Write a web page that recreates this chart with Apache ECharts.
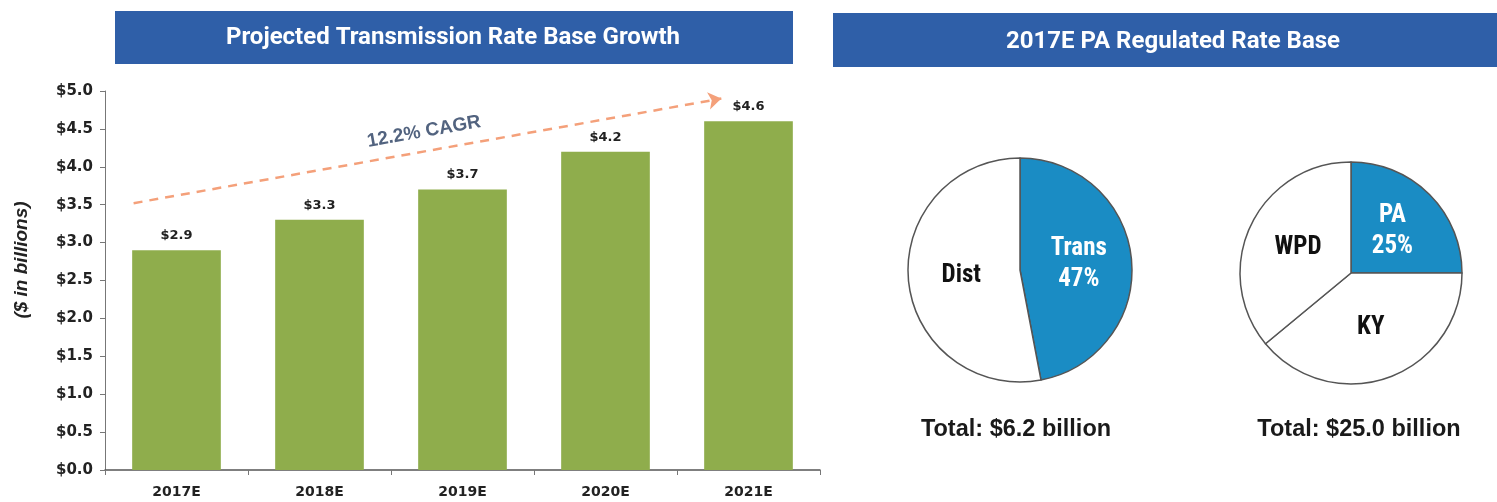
<!DOCTYPE html>
<html><head><meta charset="utf-8">
<script src="https://cdn.jsdelivr.net/npm/echarts@6/dist/echarts.min.js"></script>
<style>html,body{margin:0;padding:0;background:#fff}#c{width:1497px;height:502px}</style>
</head><body><div id="c"></div>
<script>
// ---- data ----
const years = ['2017E','2018E','2019E','2020E','2021E'];
const rateBase = [2.9, 3.3, 3.7, 4.2, 4.6];
const yTicks = [0, 0.5, 1.0, 1.5, 2.0, 2.5, 3.0, 3.5, 4.0, 4.5, 5.0];
const cagrLabel = '12.2% CAGR';
const trendStart = [-0.3, 3.52];   // category-index units, $bn
const trendEnd = [3.81, 4.9];
const paNames = ['Trans', 'Dist'];
const paShares = [47, 53];
const pplNames = ['PA', 'KY', 'WPD'];
const pplShares = [25, 39, 36];
const total1 = 'Total: $6.2 billion';
const total2 = 'Total: $25.0 billion';
const title1 = 'Projected Transmission Rate Base Growth';
const title2 = '2017E PA Regulated Rate Base';
const yName = '($ in billions)';

const BLUE = '#2f5fa8', GREEN = '#8fad4c', PIEBLUE = '#1a8cc4';
const condensed = '"Liberation Sans Narrow","Roboto Condensed",Roboto,sans-serif';
const titleFont = 'bold 24px Roboto,"Liberation Sans",sans-serif';

const chart = echarts.init(document.getElementById('c'));
chart.setOption({
  backgroundColor: '#fff',
  animation: false,
  graphic: [
    {type:'rect', shape:{x:115, y:11, width:678, height:53}, style:{fill:BLUE}, z:0},
    {type:'rect', shape:{x:833, y:13, width:664, height:54}, style:{fill:BLUE}, z:0},
    {type:'text', x:453, y:38, style:{text:title1, fill:'#fff', font:titleFont, textAlign:'center', textVerticalAlign:'middle'}, z:1},
    {type:'text', x:1173, y:42, style:{text:title2, fill:'#fff', font:titleFont, textAlign:'center', textVerticalAlign:'middle'}, z:1},
    {type:'text', x:1016, y:430, style:{text:total1, fill:'#1a1a1a', font:'bold 23.5px "Liberation Sans",Arial,sans-serif', textAlign:'center', textVerticalAlign:'middle'}},
    {type:'text', x:1359, y:430, style:{text:total2, fill:'#1a1a1a', font:'bold 23.5px "Liberation Sans",Arial,sans-serif', textAlign:'center', textVerticalAlign:'middle'}},
    {type:'text', x:22, y:260, rotation:Math.PI/2, style:{text:yName, fill:'#222', font:'italic bold 19px "Liberation Sans",Arial,sans-serif', textAlign:'center', textVerticalAlign:'middle'}}
  ],
  grid: {left:105, right:677, top:91, bottom:32, containLabel:false},
  xAxis: [
    {type:'category', data:years, boundaryGap:true,
     axisLine:{lineStyle:{color:'#555', width:1.5}},
     axisTick:{show:true, length:5, lineStyle:{color:'#777'}},
     axisLabel:{color:'#222', fontSize:14, fontWeight:'bold', fontFamily:'"DejaVu Sans",sans-serif', margin:15}},
    {type:'value', min:-0.5, max:4.5, show:false}
  ],
  yAxis: [{type:'value', min:0, max:5, interval:0.5,
    axisLine:{show:true, onZero:false, lineStyle:{color:'#777', width:1}},
    axisTick:{show:true, length:5, lineStyle:{color:'#777'}},
    splitLine:{show:false},
    axisLabel:{color:'#222', fontSize:15, fontWeight:'bold', fontFamily:'"DejaVu Sans",sans-serif', margin:12,
      formatter: v => yTicks.indexOf(v) >= 0 ? '$' + v.toFixed(1) : ''}}],
  series: [
    {type:'bar', data:rateBase, barWidth:'62%', xAxisIndex:0, yAxisIndex:0,
     itemStyle:{color:GREEN},
     label:{show:true, position:'top', distance:8, color:'#222', fontSize:13, fontWeight:'bold', fontFamily:'"DejaVu Sans",sans-serif',
       formatter: p => '$' + p.value.toFixed(1)}},
    {type:'scatter', xAxisIndex:1, yAxisIndex:0, data:[trendStart, trendEnd], symbolSize:0, silent:true,
     markLine:{silent:true, symbol:['none','arrow'], symbolSize:13,
       lineStyle:{color:'#f4a07a', width:2.5, type:[9,7]},
       label:{show:true, position:'middle', formatter:cagrLabel, color:'#52637f', fontSize:19, fontWeight:'bold',
         fontFamily:'"Liberation Sans",Arial,sans-serif', distance:10},
       data:[[{coord:trendStart},{coord:trendEnd}]]}},
    {type:'pie', center:[1020, 270], radius:112, startAngle:90, clockwise:true,
     data: paNames.map((n,i)=>({name:n, value:paShares[i], label:{color: n==='Trans' ? '#fff' : '#111'}})),
     itemStyle:{borderColor:'#555', borderWidth:1.5},
     color:[PIEBLUE, '#fff'],
     label:{show:true, position:'inner', fontSize:25, fontWeight:'bold', fontFamily:condensed, lineHeight:31,
       formatter: p => p.name === 'Trans' ? p.name + '\n' + p.value + '%' : p.name},
     labelLine:{show:false}, silent:true},
    {type:'pie', center:[1351, 273], radius:111, startAngle:90, clockwise:true,
     data: pplNames.map((n,i)=>({name:n, value:pplShares[i], label:{color: n==='PA' ? '#fff' : '#111'}})),
     itemStyle:{borderColor:'#555', borderWidth:1.5},
     color:[PIEBLUE, '#fff', '#fff'],
     label:{show:true, position:'inner', fontSize:25, fontWeight:'bold', fontFamily:condensed, lineHeight:31,
       formatter: p => p.name === 'PA' ? p.name + '\n' + p.value + '%' : p.name},
     labelLine:{show:false}, silent:true}
  ]
});
</script></body></html>
